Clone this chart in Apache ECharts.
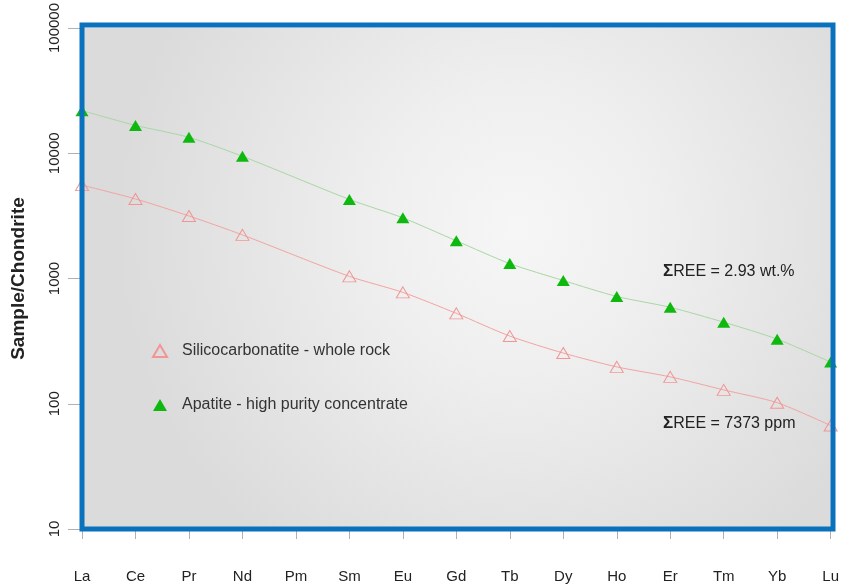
<!DOCTYPE html>
<html>
<head>
<meta charset="utf-8">
<style>
  html, body { margin: 0; padding: 0; background: #ffffff; }
  #chart { width: 842px; height: 588px; }
</style>
<script src="https://cdn.jsdelivr.net/npm/echarts@6/dist/echarts.min.js"></script>
</head>
<body>
<div id="chart"></div>
<script>
// Rare earth elements, chondrite-normalised (Pm not analysed)
var elements = ['La', 'Ce', 'Pr', 'Nd', 'Pm', 'Sm', 'Eu', 'Gd', 'Tb', 'Dy', 'Ho', 'Er', 'Tm', 'Yb', 'Lu'];
var silicocarbonatite = [5570, 4320, 3160, 2230, null, 1040, 775, 527, 347, 254, 197, 164, 129, 102, 67];
var apatite = [21900, 16700, 13400, 9460, null, 4280, 3050, 2000, 1315, 964, 719, 589, 448, 328, 215];
var seriesNames = ['Silicocarbonatite - whole rock', 'Apatite - high purity concentrate'];
var sumLabels = ['REE = 2.93 wt.%', 'REE = 7373 ppm'];

var FONT = 'Liberation Sans, Arial, sans-serif';
var chart = echarts.init(document.getElementById('chart'), null, { renderer: 'canvas' });

var GRID = { left: 82, top: 25, right: 9, bottom: 59 };

chart.setOption({
  backgroundColor: '#ffffff',
  animation: false,
  grid: {
    left: GRID.left, top: GRID.top, right: GRID.right, bottom: GRID.bottom,
    show: true,
    borderWidth: 0,
    backgroundColor: {
      type: 'radial', x: 0.58, y: 0.4, r: 0.8,
      colorStops: [
        { offset: 0, color: '#f6f6f6' },
        { offset: 0.35, color: '#efefef' },
        { offset: 1, color: '#dbdbdb' }
      ]
    }
  },
  legend: {
    orient: 'vertical',
    left: 147, top: 338,
    itemWidth: 14, itemHeight: 12,
    itemGap: 38,
    icon: 'triangle',
    textStyle: { fontFamily: FONT, fontSize: 16, color: '#333333', padding: [0, 0, 0, 10] },
    data: seriesNames
  },
  xAxis: {
    type: 'category',
    data: elements,
    boundaryGap: false,
    axisLine: { show: false },
    axisTick: { show: true, length: 10, lineStyle: { color: '#b0b0b0' } },
    axisLabel: { margin: 40, fontFamily: FONT, fontSize: 15, color: '#222222' },
    splitLine: { show: false }
  },
  yAxis: {
    type: 'log',
    logBase: 10,
    min: 10,
    max: 100000,
    name: 'Sample/Chondrite',
    nameLocation: 'middle',
    nameGap: 54,
    nameTextStyle: { fontFamily: FONT, fontSize: 19, fontWeight: 'bold', color: '#222222' },
    axisLine: { show: false },
    axisTick: { show: true, length: 14, lineStyle: { color: '#b0b0b0' } },
    axisLabel: {
      rotate: 90, margin: 20, fontFamily: FONT, fontSize: 15, color: '#222222',
      formatter: function (v) { return String(Math.round(v)); }
    },
    splitLine: { show: false }
  },
  series: [
    {
      name: seriesNames[0],
      type: 'line',
      data: silicocarbonatite,
      connectNulls: true,
      smooth: 0.25,
      symbol: 'triangle',
      symbolSize: [13, 11],
      lineStyle: { color: '#f3a3a3', width: 1 },
      itemStyle: { color: 'rgba(0,0,0,0)', borderColor: '#f19595', borderWidth: 1 }
    },
    {
      name: seriesNames[1],
      type: 'line',
      data: apatite,
      connectNulls: true,
      smooth: 0.25,
      symbol: 'triangle',
      symbolSize: [13, 11],
      lineStyle: { color: '#a9d7a5', width: 1 },
      itemStyle: { color: '#0fb80f', borderWidth: 0 }
    }
  ],
  graphic: [
    {
      type: 'rect', z: 100,
      shape: { x: GRID.left, y: GRID.top, width: 842 - GRID.left - GRID.right, height: 588 - GRID.top - GRID.bottom },
      style: { fill: null, stroke: '#0a71bd', lineWidth: 5 }
    },
    {
      type: 'text', z: 100, left: 663, top: 263,
      style: {
        text: '{s|Σ}' + sumLabels[0],
        font: '16px ' + FONT, fill: '#222222',
        rich: { s: { fontFamily: FONT, fontSize: 17, fontWeight: 'bold', fill: '#222222' } }
      }
    },
    {
      type: 'text', z: 100, left: 663, top: 415,
      style: {
        text: '{s|Σ}' + sumLabels[1],
        font: '16px ' + FONT, fill: '#222222',
        rich: { s: { fontFamily: FONT, fontSize: 17, fontWeight: 'bold', fill: '#222222' } }
      }
    }
  ]
});
</script>
</body>
</html>
